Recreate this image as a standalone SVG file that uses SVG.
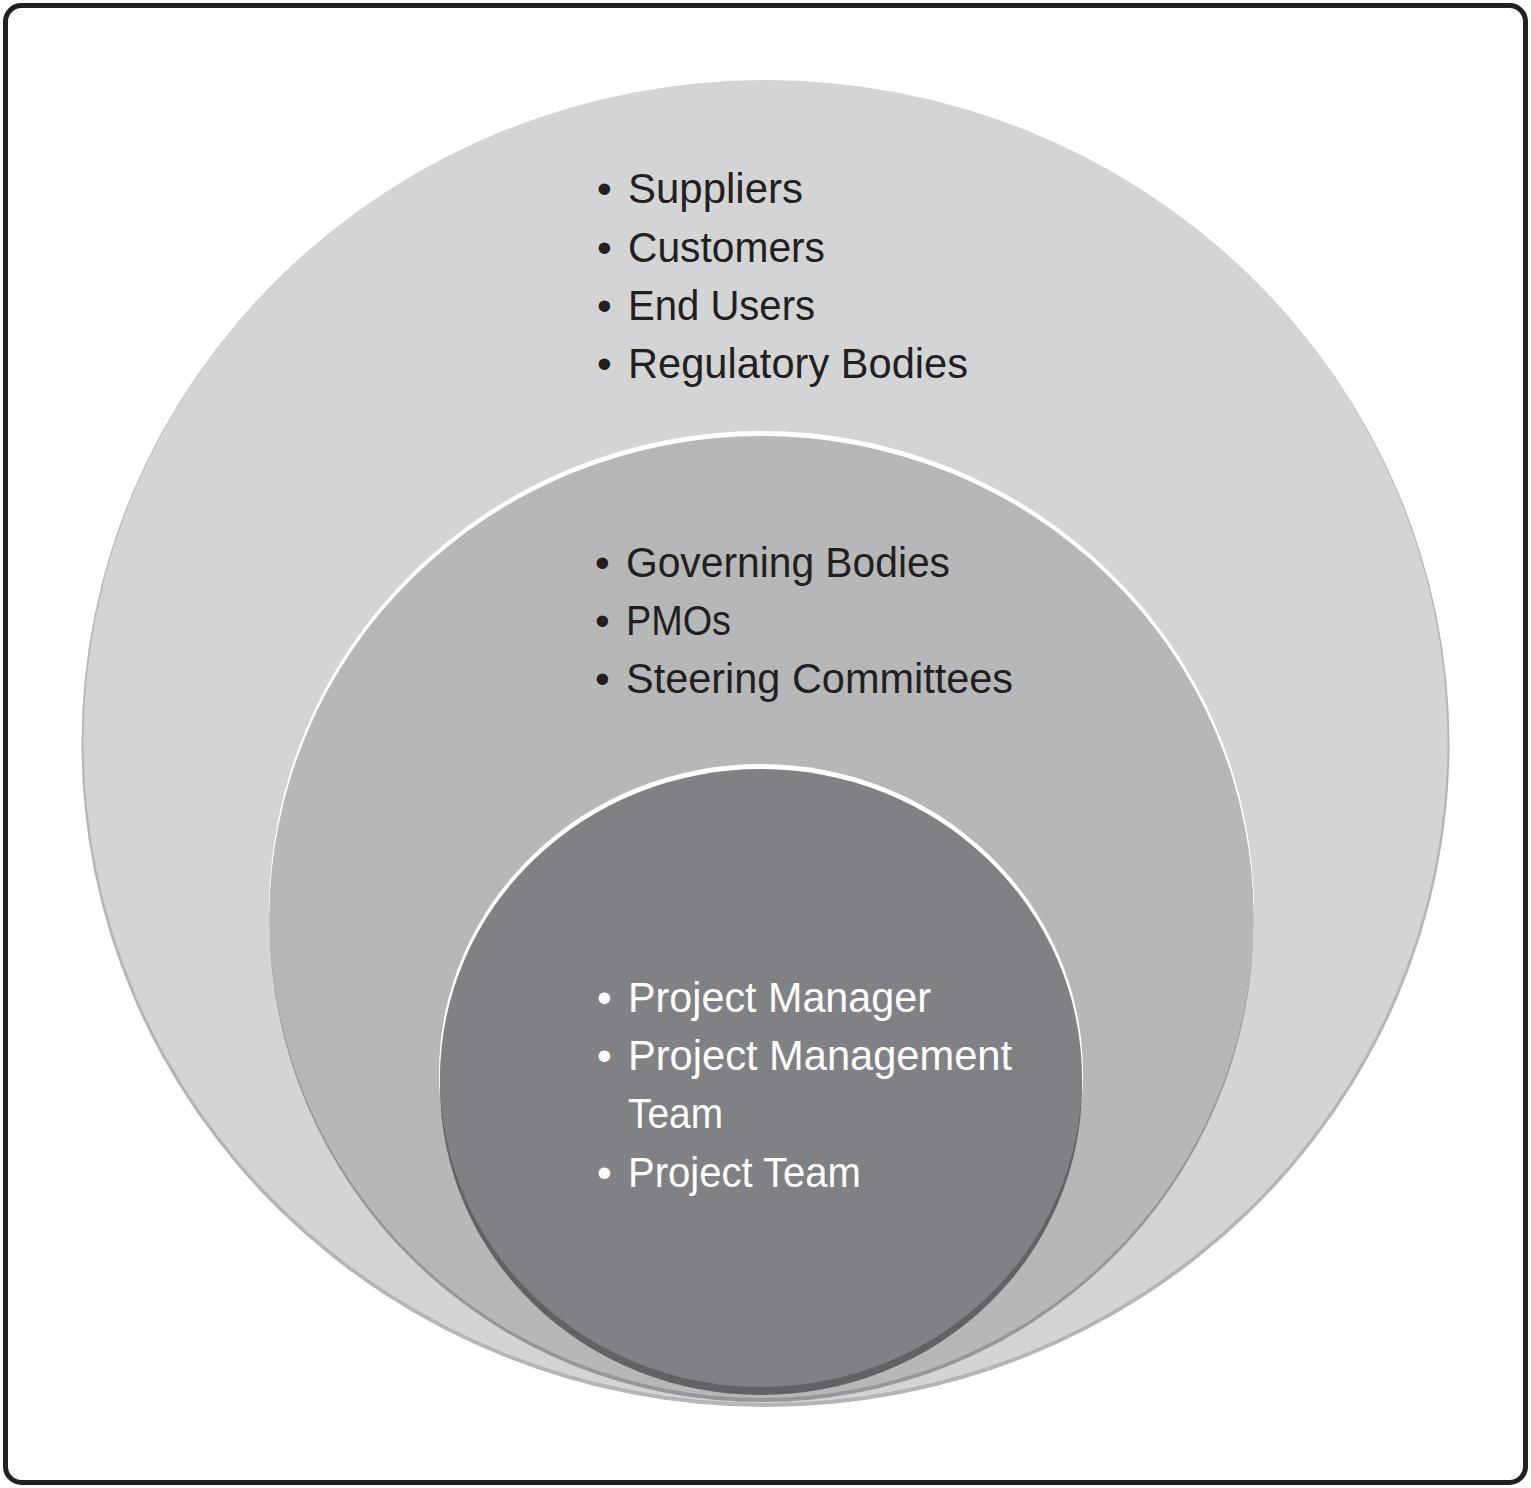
<svg xmlns="http://www.w3.org/2000/svg" width="1531" height="1488" viewBox="0 0 1531 1488">
<style>
.t{font-family:"Liberation Sans",Arial,sans-serif;font-size:42px;}
.dk{fill:#231f20;}
.wt{fill:#ffffff;}
</style>
<rect x="0" y="0" width="1531" height="1488" fill="#ffffff"/>
<rect x="5.5" y="5.5" width="1520" height="1477" rx="16" ry="16" fill="#ffffff" stroke="#231f20" stroke-width="5"/>
<g id="outer">
<ellipse cx="765.5" cy="744" rx="684" ry="663" fill="#b4b5b7"/>
<ellipse cx="765.5" cy="741.5" rx="682" ry="661.5" fill="#d3d4d6"/>
<text class="t dk" x="597" y="203">•</text><text class="t dk" x="628" y="203" textLength="175" lengthAdjust="spacingAndGlyphs">Suppliers</text>
<text class="t dk" x="597" y="262">•</text><text class="t dk" x="628" y="262" textLength="197" lengthAdjust="spacingAndGlyphs">Customers</text>
<text class="t dk" x="597" y="320">•</text><text class="t dk" x="628" y="320" textLength="187" lengthAdjust="spacingAndGlyphs">End Users</text>
<text class="t dk" x="597" y="378">•</text><text class="t dk" x="628" y="378" textLength="340" lengthAdjust="spacingAndGlyphs">Regulatory Bodies</text>
</g>
<g id="middle">
<ellipse cx="761.5" cy="912" rx="492.5" ry="481" fill="#ffffff"/>
<ellipse cx="761.5" cy="921" rx="492" ry="481" fill="#96979a"/>
<ellipse cx="761.5" cy="917" rx="492" ry="481" fill="#b6b7b9"/>
<text class="t dk" x="595" y="577">•</text><text class="t dk" x="626" y="577" textLength="324" lengthAdjust="spacingAndGlyphs">Governing Bodies</text>
<text class="t dk" x="595" y="635">•</text><text class="t dk" x="626" y="635" textLength="105" lengthAdjust="spacingAndGlyphs">PMOs</text>
<text class="t dk" x="595" y="693">•</text><text class="t dk" x="626" y="693" textLength="387" lengthAdjust="spacingAndGlyphs">Steering Committees</text>
</g>
<g id="inner">
<ellipse cx="761" cy="1073" rx="322" ry="309" fill="#ffffff"/>
<ellipse cx="761" cy="1086" rx="321" ry="309" fill="#616265"/>
<ellipse cx="761" cy="1078" rx="321" ry="309" fill="#808184"/>
<text class="t wt" x="597" y="1012">•</text><text class="t wt" x="628" y="1012" textLength="303" lengthAdjust="spacingAndGlyphs">Project Manager</text>
<text class="t wt" x="597" y="1070">•</text><text class="t wt" x="628" y="1070" textLength="384" lengthAdjust="spacingAndGlyphs">Project Management</text>
<text class="t wt" x="628" y="1128" textLength="95" lengthAdjust="spacingAndGlyphs">Team</text>
<text class="t wt" x="597" y="1187">•</text><text class="t wt" x="628" y="1187" textLength="233" lengthAdjust="spacingAndGlyphs">Project Team</text>
</g>
<g id="connectors"></g>
</svg>
